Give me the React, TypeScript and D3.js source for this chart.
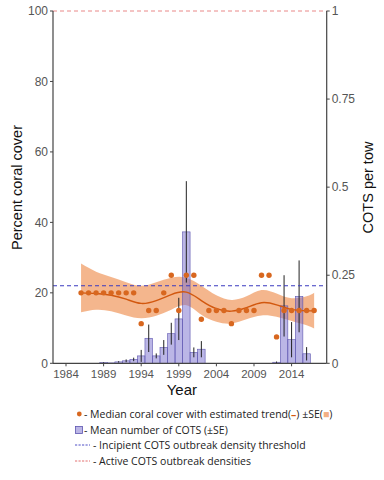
import React from 'react';
import * as d3 from 'd3';

// median coral cover (%) per survey year
const coverYears = [1986, 1987, 1988, 1989, 1990, 1991, 1992, 1993, 1994, 1995, 1996, 1997, 1998, 1999, 2000, 2001,
  2002, 2003, 2004, 2005, 2006, 2007, 2008, 2009, 2010, 2011, 2012, 2013, 2014, 2015, 2016, 2017];
const coverMedian = [20, 20, 20, 20, 20, 20, 20, 20, 11.25, 15, 15, 20, 25, 15, 25, 25,
  12.5, 15, 15, 15, 11.25, 15, 15, 15, 25, 25, 7.5, 15, 15, 15, 15, 15];

// estimated trend and +-SE band
const trendYears = [1986, 1988, 1990, 1992, 1994, 1996, 1998, 2000, 2002, 2004, 2006, 2008, 2010, 2012, 2014, 2016, 2017];
const trendMean = [20, 19.8, 19.3, 18.2, 17, 17.8, 19.5, 20.2, 17.8, 15.5, 14.8, 15.8, 17.2, 16.6, 15.3, 14.9, 14.9];
const trendUpper = [28.3, 26, 24.5, 23, 22, 23, 24.3, 24.3, 22, 19.3, 18, 19, 20.8, 19.8, 18.5, 19, 20];
const trendLower = [14.5, 15.2, 14.8, 13.6, 12.8, 13.5, 15.2, 16.5, 13.8, 11.8, 11.3, 12.5, 13.6, 13.2, 12, 10.8, 9.9];

// mean COTS per tow
const cotsYears = [1989, 1990, 1991, 1992, 1993, 1994, 1995, 1996, 1997, 1998, 1999, 2000, 2001, 2002, 2012, 2013, 2014, 2015, 2016];
const cotsMean = [0.002, 0.001, 0.004, 0.007, 0.011, 0.021, 0.071, 0.021, 0.045, 0.084, 0.126, 0.373, 0.031, 0.04, 0.003, 0.163, 0.067, 0.19, 0.027];
const cotsSE = [0.001, 0, 0.002, 0.004, 0.005, 0.017, 0.039, 0.007, 0.021, 0.031, 0.06, 0.144, 0.014, 0.023, 0.002, 0.087, 0.05, 0.102, 0.019];

const yearTicks = [1984, 1989, 1994, 1999, 2004, 2009, 2014];
const pctTicks = [0, 20, 40, 60, 80, 100];
const cotsTicks = [0, 0.25, 0.5, 0.75, 1];
const incipient = 0.22;
const active = 1;

const W = 384;
const H = 480;
const m = { left: 53, right: 326.7, top: 11, bottom: 363.3 };

const x = d3.scaleLinear().domain([1982.27, 2018.67]).range([m.left, m.right]);
const yPct = d3.scaleLinear().domain([0, 100]).range([m.bottom, m.top]);
const yCots = d3.scaleLinear().domain([0, 1]).range([m.bottom, m.top]);

const orange = '#d8671f';
const trendCol = '#d2580f';
const bandCol = '#f3b083';
const barFill = 'rgba(120,110,205,0.5)';
const barStroke = '#5d55b0';
const axisCol = '#444';
const tickCol = '#555';
const axisFont = '"Liberation Sans", Arial, sans-serif';
const legendFont = '"Open Sans", "Noto Sans", sans-serif';

const App: React.FC = () => {
  const trend = trendYears.map((yr, i) => ({ yr, mean: trendMean[i], lo: trendLower[i], hi: trendUpper[i] }));
  const band = d3.area<any>()
    .x(d => x(d.yr))
    .y0(d => yPct(d.lo))
    .y1(d => yPct(d.hi))
    .curve(d3.curveNatural)(trend) as string;
  const line = d3.line<any>()
    .x(d => x(d.yr))
    .y(d => yPct(d.mean))
    .curve(d3.curveNatural)(trend) as string;

  const bw = x(1983) - x(1982);

  return (
    <svg width={W} height={H} style={{ position: 'absolute', left: 0, top: 0, background: '#fff' }}>
      {/* SE band */}
      <path d={band} fill={bandCol} opacity={0.92} />

      {/* COTS bars */}
      <g>
        {cotsYears.map((yr, i) => (
          <rect key={yr}
            x={x(yr) - bw / 2}
            width={bw}
            y={yCots(cotsMean[i])}
            height={m.bottom - yCots(cotsMean[i])}
            fill={barFill}
            stroke={barStroke}
            strokeWidth={0.6}
          />
        ))}
        {cotsYears.map((yr, i) => cotsSE[i] > 0 && (
          <line key={'e' + yr}
            x1={x(yr)} x2={x(yr)}
            y1={yCots(cotsMean[i] + cotsSE[i])}
            y2={yCots(Math.max(0, cotsMean[i] - cotsSE[i]))}
            stroke="#222" strokeWidth={1}
          />
        ))}
      </g>

      {/* trend */}
      <path d={line} fill="none" stroke={trendCol} strokeWidth={1.4} />

      {/* thresholds */}
      <line x1={m.left} x2={m.right} y1={yCots(incipient)} y2={yCots(incipient)}
        stroke="#3a3ac0" strokeWidth={1.1} strokeDasharray="4,3" />
      <line x1={m.left} x2={m.right} y1={yCots(active)} y2={yCots(active)}
        stroke="#e77a7a" strokeWidth={0.9} strokeDasharray="4,3" />

      {/* median coral cover */}
      {coverYears.map((yr, i) => (
        <circle key={'c' + yr} cx={x(yr)} cy={yPct(coverMedian[i])} r={2.7} fill={orange} />
      ))}

      {/* axes */}
      <g fontFamily={axisFont}>
        <line x1={m.left} x2={m.left} y1={m.top} y2={m.bottom} stroke={axisCol} strokeWidth={1.2} />
        <line x1={m.right} x2={m.right} y1={m.top} y2={m.bottom} stroke={axisCol} strokeWidth={1.2} />
        <line x1={m.left} x2={m.right} y1={m.bottom} y2={m.bottom} stroke={axisCol} strokeWidth={1.2} />
        {pctTicks.map(t => (
          <g key={'p' + t}>
            <line x1={m.left - 3} x2={m.left} y1={yPct(t)} y2={yPct(t)} stroke={axisCol} />
            <text x={m.left - 5} y={yPct(t)} dy="0.35em" textAnchor="end" fontSize={12} fill={tickCol}>{t}</text>
          </g>
        ))}
        {cotsTicks.map(t => (
          <g key={'r' + t}>
            <line x1={m.right} x2={m.right + 3} y1={yCots(t)} y2={yCots(t)} stroke={axisCol} />
            <text x={m.right + 5} y={yCots(t)} dy="0.35em" textAnchor="start" fontSize={12} fill={tickCol}>{t}</text>
          </g>
        ))}
        {yearTicks.map(t => (
          <g key={'x' + t}>
            <line x1={x(t)} x2={x(t)} y1={m.bottom} y2={m.bottom + 3} stroke={axisCol} />
            <text x={x(t)} y={m.bottom + 15} textAnchor="middle" fontSize={11.5} fill={tickCol}>{t}</text>
          </g>
        ))}
        <text x={(m.left + m.right) / 2 - 8} y={395} textAnchor="middle" fontSize={15} fill="#111">Year</text>
        <text transform={`translate(22, 187.5) rotate(-90)`} textAnchor="middle" fontSize={14.5} fill="#111">Percent coral cover</text>
        <text transform={`translate(373, 187.5) rotate(-90)`} textAnchor="middle" fontSize={14.5} fill="#111">COTS per tow</text>
      </g>

      {/* legend */}
      <g fontFamily={legendFont} fontSize={10.5} fill="#222">
        <circle cx={79.3} cy={414} r={2.4} fill={orange} />
        <text x={84} y={417.7}>
          - Median coral cover with estimated trend(<tspan fill={trendCol} fontWeight="bold">–</tspan>) ±SE(<tspan fill={bandCol}>■</tspan>)
        </text>
        <rect x={75.5} y={426.5} width={7} height={7} fill={barFill} stroke={barStroke} strokeWidth={0.8} />
        <text x={84} y={433.7}>- Mean number of COTS (±SE)</text>
        <line x1={75} x2={90} y1={445} y2={445} stroke="#3a3ac0" strokeWidth={0.9} strokeDasharray="2.2,1.3" />
        <text x={93} y={448.7}>- Incipient COTS outbreak density threshold</text>
        <line x1={75} x2={90} y1={461} y2={461} stroke="#e06060" strokeWidth={0.9} strokeDasharray="2.2,1.3" />
        <text x={93} y={464.7}>- Active COTS outbreak densities</text>
      </g>
    </svg>
  );
};

export default App;
